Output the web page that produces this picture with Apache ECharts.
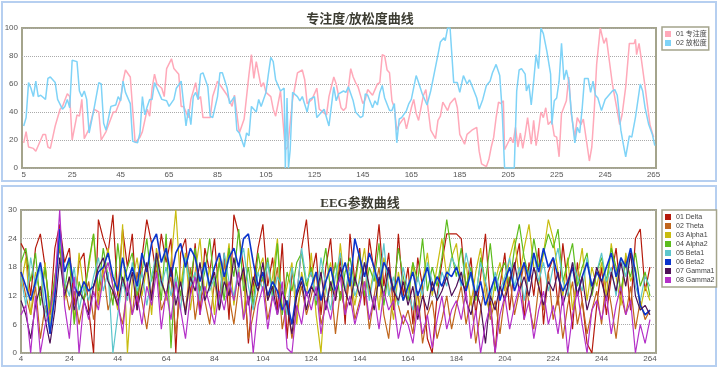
<!DOCTYPE html>
<html><head><meta charset="utf-8">
<script src="https://cdn.jsdelivr.net/npm/echarts@6/dist/echarts.min.js"></script>
<style>html,body{margin:0;padding:0;background:#fff}#c{width:720px;height:369px}</style>
</head><body><div id="c"></div>
<script>
// ---------- top chart: 专注度 / 放松度 ----------
const topTicks = [5,25,45,65,85,105,125,145,165,185,205,225,245,265];
const focusX = [5,6,7,9,10,12,13,14,15,16,17,18,20,21,23,24,25,27,28,29,30,32,34,36,37,39,42,43,45,46,47,49,51,53,54,56,57,58,59,60,62,63,64,66,67,69,70,71,73,74,76,77,78,79,82,83,85,87,89,91,92,94,96,98,99,100,101,103,104,105,107,108,109,111,113,114,116,118,120,121,122,124,126,127,130,131,133,134,136,137,138,140,141,142,143,145,146,147,149,150,151,152,153,154,155,156,157,158,159,160,162,163,165,166,167,168,170,171,172,173,175,176,177,178,180,181,183,184,185,187,188,190,192,193,194,196,197,198,199,200,201,202,203,203.5,204,206,207,208,209,210,211,212,213,214.5,215.5,216.5,217.5,218.5,219.5,220.5,221.5,223,224,225,226,227,229,230,231,232.5,233.5,235,236,237.5,238.5,239.5,240.5,241.5,243,244.5,245.5,248,250,251,252,253.5,255,257,257.5,258,259,260,261.5,263.5,265];
const focusY = [18,26,15,14,12,20,24,24,15,14,22,30,42,44,53,51,20,38,37,49,21,28,42,40,20,26,40,40,49,62,70,65,18,22,26,42,37,57,67,60,57,51,71,78,71,67,44,44,36,49,61,49,51,36,36,51,62,57,52,44,52,25,35,67,81,64,76,58,61,54,51,42,37,55,13,15,49,68,70,63,46,49,57,42,38,51,65,60,43,41,43,71,65,61,58,46,49,56,52,56,60,61,81,80,70,68,48,43,27,31,36,28,43,49,39,34,52,56,41,27,21,34,37,47,41,46,50,43,24,17,24,27,29,12,3,1,6,15,22,36,47,46,48,13,14,22,18,29,15,25,14,24,36,17,34,16,27,40,36,43,31,34,23,22,8,39,48,65,39,22,36,31,35,17,5,15,41,74,100,89,93,60,41,31,38,58,89,89,92,81,89,77,58,31,22];
const relaxX = [5,6,7,8,9,10,11,12,14,15,16,18,19,21,22,23,24,25,27,28,29,30,31,32,34,36,37,38,39,41,43,44,45,46,47,49,50,52,53,54,55,56,57,58,59,60,62,64,65,67,68,70,71,72,73,74,75,76,77,78,79,81,82,83,85,86,87,89,90,92,93,94,96,97,98,99,101,102,103,105,106,107,108,109,111,112.5,113,113.7,114.3,115,116,118,119,120,122,123,125,126,127,129,131,132,133,134,135,137,138,139,141,142,144,145,146,147,149,150,151,152,153,154,156,157,158,159,160,161,163,164,165,167,168,169.5,171.5,173,174.5,176,177,178.5,179,180,181,182.5,184,185,186.5,188,189,190,192,193,194.5,196,197.5,198.5,200,201.5,202.5,203.5,205,207.5,208.5,209.5,210.5,212,212.5,213.5,214.5,215.5,216.5,217.5,218.5,219.5,221,222.5,223,224,225,226,227,228,229,230,231,232.5,233.5,234.5,235.5,236.5,238,239,240,241,242,243.5,245,246.5,248,249,250,251.5,252.5,253.5,255,256,257.5,258.5,259.5,260.5,261.5,263,264.5,265.5];
const relaxY = [30,36,61,57,51,62,51,52,49,64,65,61,49,42,44,49,43,77,76,55,51,55,49,25,42,61,60,32,27,44,45,51,48,62,54,46,19,18,25,51,38,44,49,49,61,57,49,48,44,49,57,62,46,30,42,31,51,54,49,67,68,58,37,36,51,68,68,57,46,51,27,25,15,25,23,44,40,49,44,54,67,79,76,63,55,57,0,50,0,13,54,51,48,51,40,49,51,36,38,42,30,44,58,48,53,55,54,58,48,40,36,37,53,52,43,48,45,54,59,50,41,41,46,18,35,36,41,46,49,66,61,53,45,55,68,81,90,93,91,100,100,61,61,54,66,60,63,59,50,42,49,59,62,68,74,66,41,0,0,0,55,70,71,67,55,60,45,62,81,71,100,96,83,67,31,48,50,62,89,63,70,62,41,18,29,25,42,64,64,54,62,52,50,41,49,52,55,56,52,27,17,8,23,22,36,48,60,55,43,31,24,16];

// ---------- bottom chart: EEG (x = 4, 6, ..., 264) ----------
const eegTicks = [4,24,44,64,84,104,124,144,164,184,204,224,244,264];
const eegNames = ['01 Delta','02 Theta','03 Alpha1','04 Alpha2','05 Beta1','06 Beta2','07 Gamma1','08 Gamma2'];
const delta = [23,21,12,22,25,18,8,22,27,19, 22,10,19,21,9,0,28,24,21,29, 12,26,18,25,9,20,28,23,16,25, 19,24,0,21,24,12,23,8,22,17, 24,11,21,7,29,25,18,2,14,22, 27,14,20,9,23,3,17,12,22,28, 16,21,8,18,24,11,20,6,25,15, 22,10,24,17,27,14,21,9,25,12, 18,6,20,14,3,0,12,19,25,25, 25,24,13,20,8,16,25,11,0,14, 21,9,18,23,7,19,12,22,6,17, 20,10,23,14,5,19,11,2,0,10, 18,8,16,22,12,20,9,24,26,13, 18];
const theta = [17,12,8,14,3,10,5,16,22,14, 9,13,6,11,15,7,12,18,9,13, 10,6,14,8,17,11,5,13,19,9, 12,16,4,13,9,18,7,14,11,6, 15,9,19,12,6,14,17,3,8,13, 16,7,12,18,5,11,3,9,14,8, 12,17,6,10,15,4,13,9,16,7, 11,15,5,12,18,8,3,14,10,6, 9,4,13,2,8,11,3,7,12,5, 10,14,6,12,2,9,15,7,11,4, 12,16,8,13,19,10,5,14,9,17, 7,12,3,10,15,6,11,4,9,13, 6,16,10,3,12,8,14,5,11,7, 9];
const alpha1 = [14,20,8,17,12,19,6,15,24,11, 16,7,21,13,18,25,10,17,22,14, 9,27,0,15,20,12,18,8,22,16, 11,19,30,14,21,9,17,24,12,18, 8,20,15,23,10,18,7,22,13,17, 20,11,16,24,9,14,19,6,17,12, 21,8,0,15,19,11,23,13,17,10, 16,22,12,18,9,20,14,7,17,11, 13,19,8,15,21,12,18,24,16,20, 23,14,19,10,17,22,12,8,15,19, 13,20,24,16,22,27,18,14,21,28, 24,17,12,20,9,16,22,11,18,14, 19,12,23,16,10,21,15,18,9,14, 11];
const alpha2 = [19,22,15,21,10,18,9,16,23,13, 20,6,15,11,19,25,13,22,16,10, 23,14,18,21,12,17,24,15,20,11, 25,1,18,12,20,15,22,13,17,24, 14,19,11,22,16,26,13,18,10,21, 15,20,12,23,8,17,13,19,21,14, 18,10,16,22,13,19,11,17,20,14, 21,12,18,15,23,10,17,13,22,16, 11,19,15,24,13,18,14,20,28,21, 16,22,14,18,11,20,15,23,13,17, 19,14,22,27,20,16,24,18,21,25, 22,26,15,19,23,14,18,21,12,17, 20,15,22,18,13,19,16,21,14,17, 12];
const beta1 = [16,10,20,14,18,9,5,13,25,15, 12,18,9,14,11,16,20,13,17,0, 8,15,11,19,13,17,10,16,21,14, 18,12,16,9,20,14,17,11,19,13, 16,10,21,15,12,18,22,14,9,17, 13,19,11,16,14,8,18,12,22,15, 17,11,20,14,9,16,21,13,18,12, 15,19,11,17,14,23,12,16,10,18, 13,9,16,12,19,15,11,17,14,20, 18,14,21,16,12,19,15,11,17,13, 16,20,14,18,11,17,21,15,19,13, 18,22,15,12,19,16,13,20,14,17, 21,15,18,12,20,16,22,14,11,16, 14];
const beta2 = [17,14,11,15,19,13,4,12,26,17, 20,14,12,15,13,14,17,18,21,16, 13,20,15,18,14,21,17,23,25,19, 22,16,21,23,18,22,20,15,19,14, 18,21,16,20,22,18,24,25,19,14, 17,12,15,13,9,11,6,13,16,12, 14,17,11,15,18,13,16,19,14,24, 20,16,21,18,14,19,17,13,16,11, 14,17,12,15,18,13,16,14,17,16, 18,15,13,17,12,15,10,13,16,11, 15,18,13,16,19,15,21,17,22,18, 20,16,13,15,18,12,16,19,14,17, 15,18,21,16,20,18,22,17,10,8, 9];
const gamma1 = [11,8,3,10,14,7,2,9,20,12, 16,9,13,11,8,14,18,20,15,13, 10,16,12,17,9,14,19,11,21,15, 12,18,10,15,8,16,13,19,11,14, 17,9,15,12,20,14,18,10,16,13, 19,11,14,8,13,10,4,12,15,9, 14,12,17,9,15,11,18,13,10,16, 12,19,14,9,16,12,18,13,11,15, 10,14,7,12,9,15,11,13,16,12, 14,17,11,8,13,10,2,12,9,14, 11,15,19,13,16,12,18,14,10,15, 13,17,10,14,19,12,16,9,13,18, 15,11,17,13,19,14,21,12,9,10, 8];
const gamma2 = [8,10,0,12,0,6,9,14,30,10, 3,16,0,11,7,13,9,16,19,14, 11,4,15,8,12,6,14,10,17,5, 13,7,15,9,3,12,16,8,14,10, 6,13,9,15,11,17,7,12,0,10, 14,5,12,8,15,1,0,10,6,13, 9,14,4,11,7,13,16,8,12,6, 10,15,7,12,5,13,9,11,3,8, 6,2,10,4,8,1,7,12,5,9, 11,7,13,3,9,0,6,10,0,8, 12,5,10,14,7,11,3,9,13,6, 10,4,12,0,8,13,6,0,9,11, 7,12,4,10,14,8,11,0,6,2, 7];
const eegSeries = [delta, theta, alpha1, alpha2, beta1, beta2, gamma1, gamma2];
const eegColors = ['#b51a0c','#c0661c','#c8bc10','#5cbc1c','#5cc6cc','#0a34cc','#4e1058','#b430c8'];

const pairs = (xs, ys) => xs.map((x, i) => [x, ys[i]]);
const eegPoint = (vals) => vals.map((v, i) => [eegTicks[0] + 2 * i, v]);

const labelStyle = {fontSize: 8, color: '#555', fontFamily: 'Liberation Sans, Arial, sans-serif'};
const titleStyle = {fontSize: 13, fontWeight: 'bold', color: '#3c3c32', fontFamily: 'Liberation Serif, Noto Sans CJK SC, serif'};
const legendBase = {
  orient: 'vertical', left: 662, icon: 'rect', itemWidth: 6, itemHeight: 6, itemGap: 1,
  padding: [3, 2, 3, 3], borderColor: '#a4a48c', borderWidth: 1.5, backgroundColor: '#fff',
  textStyle: {fontSize: 7, lineHeight: 8, color: '#444', fontFamily: 'Liberation Sans, Noto Sans CJK SC, sans-serif'},
  selectedMode: false
};
const gridBase = {show: true, borderColor: '#a4a48c', borderWidth: 2, backgroundColor: '#fff', containLabel: false};

const chart = echarts.init(document.getElementById('c'));
chart.setOption({
  animation: false,
  backgroundColor: '#fff',
  graphic: [
    {type: 'rect', shape: {x: 2, y: 2, width: 714, height: 179}, style: {fill: 'none', stroke: '#b6cff0', lineWidth: 2}, z: -10},
    {type: 'rect', shape: {x: 2, y: 186, width: 714, height: 180}, style: {fill: 'none', stroke: '#b6cff0', lineWidth: 2}, z: -10}
  ],
  title: [
    {text: '专注度/放松度曲线', left: 'center', top: 8, textStyle: titleStyle},
    {text: 'EEG参数曲线', left: 'center', top: 192, textStyle: titleStyle}
  ],
  legend: [
    Object.assign({}, legendBase, {top: 27, data: ['01 专注度', '02 放松度']}),
    Object.assign({}, legendBase, {top: 210, data: eegNames})
  ],
  grid: [
    Object.assign({}, gridBase, {left: 22, top: 28, width: 634, height: 140}),
    Object.assign({}, gridBase, {left: 21, top: 210, width: 635, height: 143})
  ],
  xAxis: [
    {gridIndex: 0, type: 'value', min: 4.3, max: 266, axisLine: {show: false}, axisTick: {show: false}, splitLine: {show: false},
     axisLabel: Object.assign({customValues: topTicks, margin: 3}, labelStyle)},
    {gridIndex: 1, type: 'value', min: 4, max: 266.5, axisLine: {show: false}, axisTick: {show: false}, splitLine: {show: false},
     axisLabel: Object.assign({customValues: eegTicks, margin: 2}, labelStyle)}
  ],
  yAxis: [
    {gridIndex: 0, type: 'value', min: 0, max: 100, interval: 20, axisLine: {show: false}, axisTick: {show: false},
     splitLine: {lineStyle: {type: 'dotted', color: '#aaa', width: 1}}, axisLabel: Object.assign({margin: 4}, labelStyle)},
    {gridIndex: 1, type: 'value', min: 0, max: 30, interval: 6, axisLine: {show: false}, axisTick: {show: false},
     splitLine: {lineStyle: {type: 'dotted', color: '#aaa', width: 1}}, axisLabel: Object.assign({margin: 4}, labelStyle)}
  ],
  series: [
    {name: '01 专注度', type: 'line', xAxisIndex: 0, yAxisIndex: 0, data: pairs(focusX, focusY), showSymbol: false, symbol: 'none',
     lineStyle: {width: 1.5, color: '#ffa9b9'}, itemStyle: {color: '#ffa9b9'}},
    {name: '02 放松度', type: 'line', xAxisIndex: 0, yAxisIndex: 0, data: pairs(relaxX, relaxY), showSymbol: false, symbol: 'none',
     lineStyle: {width: 1.5, color: '#7fd3f7'}, itemStyle: {color: '#7fd3f7'}}
  ].concat(eegSeries.map((vals, k) => ({
    name: eegNames[k], type: 'line', xAxisIndex: 1, yAxisIndex: 1, data: eegPoint(vals), showSymbol: false, symbol: 'none',
    lineStyle: {width: k === 5 ? 1.6 : 1.2, color: eegColors[k]}, itemStyle: {color: eegColors[k]}
  })))
});
</script></body></html>
